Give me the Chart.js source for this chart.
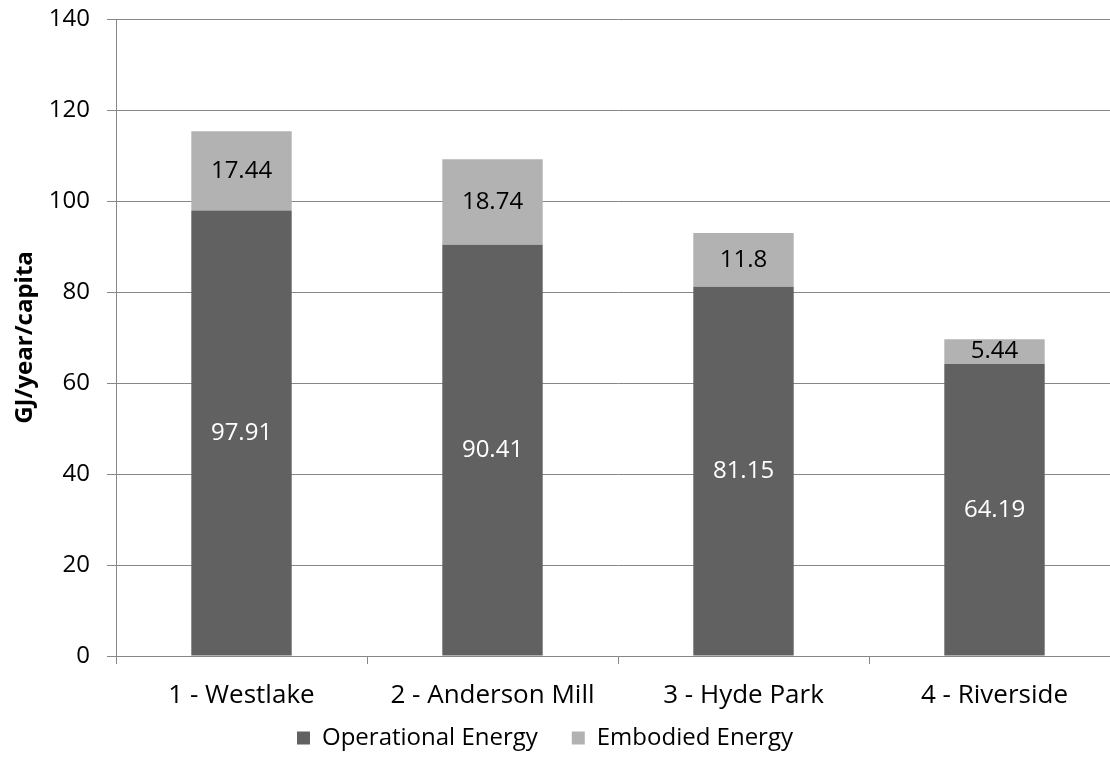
<!DOCTYPE html>
<html>
<head>
<meta charset="utf-8">
<script src="https://cdn.jsdelivr.net/npm/chart.js@4/dist/chart.umd.min.js"></script>
<style>
  html, body { margin: 0; padding: 0; background: #fff; overflow: hidden; }
  #wrap { width: 1125px; height: 771px; }
</style>
</head>
<body>
<div id="wrap"><canvas id="chart" width="1125" height="771"></canvas></div>
<script>
const categories = ['1 - Westlake', '2 - Anderson Mill', '3 - Hyde Park', '4 - Riverside'];
const operational = [97.91, 90.41, 81.15, 64.19];
const embodied = [17.44, 18.74, 11.8, 5.44];
const yTicks = [0, 20, 40, 60, 80, 100, 120, 140];

const FONT = 'Open Sans';
const GRID = '#878787';

// value labels in the middle of each stacked segment
const segmentLabels = {
    id: 'segmentLabels',
    afterDatasetsDraw(chart) {
        const ctx = chart.ctx;
        ctx.save();
        ctx.font = '24px "' + FONT + '"';
        ctx.textAlign = 'center';
        ctx.textBaseline = 'middle';
        chart.data.datasets.forEach((ds, i) => {
            const meta = chart.getDatasetMeta(i);
            ctx.fillStyle = i === 0 ? '#ffffff' : '#000000';
            meta.data.forEach((bar, j) => {
                const y = (bar.y + bar.base) / 2;
                ctx.fillText(String(ds.data[j]), bar.x, y);
            });
        });
        ctx.restore();
    }
};

// nudge the legend up/left a bit, and let the x labels overflow their box
const layoutTweaks = {
    id: 'layoutTweaks',
    afterLayout(chart) {
        chart.legend.left -= 15;
        chart.legend.right -= 15;
        chart.legend.top -= 9;
        chart.legend.bottom -= 9;
        chart.scales.x.bottom = chart.height;
    }
};

new Chart(document.getElementById('chart'), {
    type: 'bar',
    data: {
        labels: categories,
        datasets: [{
            label: 'Operational Energy',
            data: operational,
            backgroundColor: '#616161',
            categoryPercentage: 1,
            barPercentage: 0.4
        }, {
            label: 'Embodied Energy',
            data: embodied,
            backgroundColor: '#b2b2b2',
            categoryPercentage: 1,
            barPercentage: 0.4
        }]
    },
    options: {
        responsive: false,
        animation: false,
        layout: { padding: { top: 19, left: 0, right: 5, bottom: 2 } },
        scales: {
            x: {
                stacked: true,
                grid: { drawOnChartArea: false, drawTicks: true, tickLength: 8, color: GRID },
                border: { color: GRID, width: 1 },
                ticks: { color: '#000', font: { family: FONT, size: 26 }, padding: 16 },
                afterFit(scale) {
                    scale.height = 45;
                    scale.paddingLeft = 0;
                    scale.paddingRight = 0;
                }
            },
            y: {
                stacked: true,
                min: 0,
                max: 140,
                afterBuildTicks(scale) { scale.ticks = yTicks.map(v => ({ value: v })); },
                grid: { color: GRID, tickLength: 9 },
                border: { color: GRID, width: 1 },
                ticks: { color: '#000', font: { family: FONT, size: 24 }, padding: 17 },
                title: {
                    display: true,
                    text: 'GJ/year/capita',
                    color: '#000',
                    font: { family: FONT, size: 24, weight: 'bold' },
                    padding: { top: 11, bottom: 0 }
                },
                afterFit(scale) {
                    scale.width = 116;
                    scale.paddingTop = 0;
                    scale.paddingBottom = 0;
                }
            }
        },
        plugins: {
            legend: {
                position: 'bottom',
                labels: {
                    color: '#000',
                    font: { family: FONT, size: 24 },
                    boxWidth: 13,
                    boxHeight: 13,
                    padding: 34
                }
            },
            tooltip: { enabled: false }
        }
    },
    plugins: [segmentLabels, layoutTweaks]
});
</script>
</body>
</html>
